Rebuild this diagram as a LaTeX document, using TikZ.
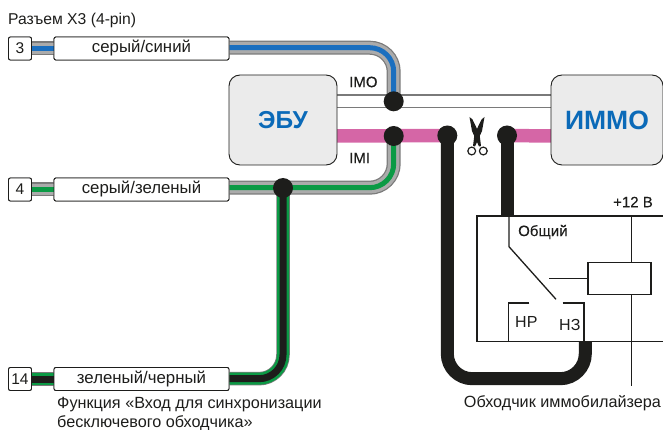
\documentclass[tikz,border=0pt]{standalone}
\usepackage{fontspec}
\setmainfont{Liberation Sans}
\newfontfamily\medfam[FakeBold=0.25]{Liberation Sans}
\definecolor{edgec}{HTML}{7A7A7A}
\definecolor{greyc}{HTML}{ABABAB}
\definecolor{bluec}{HTML}{1B6FBF}
\definecolor{greenc}{HTML}{0B9A45}
\definecolor{pinkc}{HTML}{D566A6}
\definecolor{inkc}{HTML}{1D1D1B}
\definecolor{unitc}{HTML}{EBEBEB}
\definecolor{titlec}{HTML}{0B6AB8}
\newcommand{\greywire}[2]{%
  \draw[line width=14pt,edgec,rounded corners=24pt] #2;
  \draw[line width=11.5pt,greyc,rounded corners=24pt] #2;
  \draw[line width=5pt,#1,rounded corners=24pt] #2;}
\newcommand{\blackwire}[1]{%
  \draw[line width=13.5pt,edgec,rounded corners=24pt] #1;
  \draw[line width=12pt,greenc,rounded corners=24pt] #1;
  \draw[line width=7pt,inkc,rounded corners=24pt] #1;}
\tikzset{
  pinbox/.style={draw=inkc,fill=white,line width=.9pt,rounded corners=2pt,minimum width=23pt,minimum height=23pt,inner sep=0pt,font=\fontsize{15.5}{15}\selectfont,text=inkc},
  labelbox/.style={draw=inkc,fill=white,line width=.9pt,rounded corners=2pt,minimum width=175pt,minimum height=23pt,inner sep=0pt,font=\fontsize{16.8}{16}\selectfont,text=inkc},
  unitbox/.style={draw=inkc,fill=unitc,line width=.9pt,rounded corners=11pt,inner sep=0pt,text=titlec},
  txt/.style={inner sep=0pt,text=inkc,font=\fontsize{16}{19}\selectfont},
  med/.style={inner sep=0pt,text=inkc,font=\fontsize{15}{16}\selectfont\medfam},
  dot/.style={circle,fill=inkc,minimum size=20pt,inner sep=0pt},
  relay/.style={line width=1.3pt,inkc},
}
\begin{document}
\begin{tikzpicture}[x=1pt,y=-1pt]
\useasboundingbox (0,0) rectangle (663,430);
\node[pinbox] (p3) at (20,48.5) {3};
\node[labelbox] (l3) at (141.5,48.5) {серый/синий};
\node[pinbox] (p4) at (20,189.5) {4};
\node[labelbox] (l4) at (141.5,189.5) {серый/зеленый};
\node[pinbox] (p14) at (20,379) {14};
\node[labelbox] (l14) at (141.5,379) {зеленый/черный};
\coordinate (imoL) at (330,101.3);
\coordinate (imoR) at (551,101.3);
\coordinate (imiL) at (330,136);
\coordinate (cutL) at (447.3,135.5);
\coordinate (cutR) at (507,135.5);
\coordinate (imiR) at (551,136);
\coordinate (j3) at (393.7,101.3);
\coordinate (ji) at (393.7,136);
\coordinate (j14) at (283,188);
\coordinate (relayC) at (507,216);
\coordinate (relayN) at (585.3,341);
\draw[line width=14pt,edgec] (imoL) -- (imoR);
\draw[line width=11pt,white] (imoL) -- (imoR);
\draw[line width=13.5pt,pinkc] (imiL) -- (cutL);
\draw[line width=13.5pt,pinkc] (cutR) -- (imiR);
\greywire{bluec}{(p3.east) -- (l3.west)}
\greywire{greenc}{(p4.east) -- (l4.west)}
\blackwire{(p14.east) -- (l14.west)}
\greywire{bluec}{(l3.east |- 0,47.7) -- (393.7,47.7) -- (j3)}
\greywire{greenc}{(l4.east |- 0,187.7) -- (393.7,187.7) -- (ji)}
\blackwire{(l14.east |- 0,378.7) -- (283,378.7) -- (j14)}
\node[pinbox] at (p3) {3};
\node[labelbox] at (l3) {серый/синий};
\node[pinbox] at (p4) {4};
\node[labelbox] at (l4) {серый/зеленый};
\node[pinbox] at (p14) {14};
\node[labelbox] at (l14) {зеленый/черный};
\node[unitbox,minimum width=108pt,minimum height=90pt,font=\fontsize{24.5}{26}\selectfont\bfseries] (ecu) at (283,120) {ЭБУ};
\node[unitbox,minimum width=112pt,minimum height=90pt,font=\fontsize{26.5}{26}\selectfont\bfseries] (immo) at (607,120) {ИММО};
\draw[line width=13pt,inkc,rounded corners=25pt] (cutL) -- (447.3,378.7) -- (585.3,378.7) -- (relayN);
\draw[line width=13pt,inkc] (cutR) -- (relayC);
\node[dot] (d1) at (j3) {};
\node[dot] (d2) at (ji) {};
\node[dot] (d3) at (cutL) {};
\node[dot] (d4) at (cutR) {};
\node[dot] (d5) at (j14) {};
\begin{scope}[inkc]
\fill (469.5,117) -- (472.5,119.5) -- (479.5,134) -- (481,146) -- (479,146.5) -- (476.5,141) -- (472,131) -- cycle;
\fill (484.5,117) -- (481.5,119.5) -- (474.5,134) -- (473,146) -- (475,146.5) -- (477.5,141) -- (482,131) -- cycle;
\draw[line width=1.2pt] (471.7,151) circle (3.9);
\draw[line width=1.2pt] (483.3,151) circle (3.9);
\end{scope}
\coordinate (rA) at (509,216);
\coordinate (rB) at (509,246.7);
\coordinate (rC) at (556,299.3);
\coordinate (coilT) at (631.7,216);
\coordinate (coilB) at (631.7,386);
\draw[relay] (663,216) -- (477,216) -- (477,341.3) -- (663,341.3);
\draw[relay] (rA) -- (rB) -- (rC);
\node[draw=inkc,line width=1.3pt,fill=white,minimum width=63pt,minimum height=32pt,inner sep=0pt] (coil) at (619.5,278.7) {};
\draw[relay] (coilT) -- (coil.north -| coilT);
\draw[relay] (coil.south -| coilB) -- (coilB);
\coordinate (arm) at (549,278.7);
\draw[relay] (arm) -- (arm -| coil.west);
\draw[relay] (529.3,303) -- (508.7,303) -- (508.7,341.3);
\draw[relay] (562.7,303) -- (584,303) -- (584,341.3);
\node[txt,anchor=west,font=\fontsize{15.7}{19}\selectfont] (t0) at (8,20) {Разъем Х3 (4-pin)};
\node[med,anchor=west] (t1) at (349,82) {IMO};
\node[med,anchor=west] (t2) at (349,158) {IMI};
\node[med,anchor=east] (t3) at (653,202) {+12 В};
\node[med,anchor=west] (t4) at (518,232) {Общий};
\node[txt,anchor=west] (t5) at (515,322) {НР};
\node[txt,anchor=west] (t6) at (559,325) {НЗ};
\node[txt,anchor=east,font=\fontsize{16.2}{19}\selectfont] (t7) at (661,403) {Обходчик иммобилайзера};
\node[txt,anchor=north west,align=left,font=\fontsize{16.2}{19}\selectfont] (t8) at (57,397) {Функция «Вход для синхронизации\\бесключевого обходчика»};
\end{tikzpicture}
\end{document}
